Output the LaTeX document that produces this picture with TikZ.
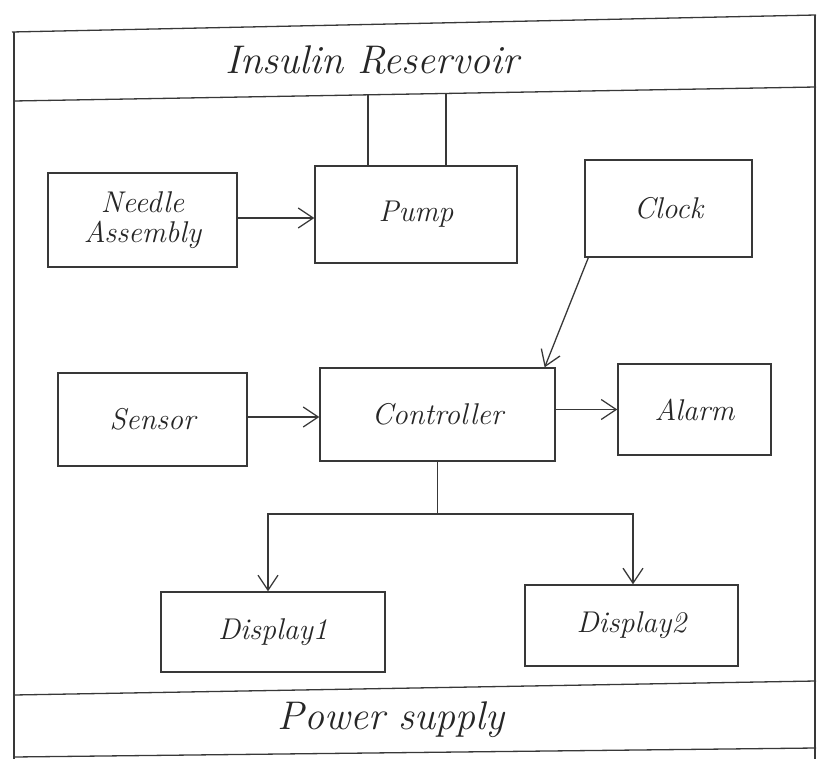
\documentclass[tikz,border=0pt]{standalone}
\usetikzlibrary{arrows.meta}
\begin{document}
\begin{tikzpicture}[x=1pt,y=-1pt,
  ink/.style={draw=black!78,line width=1.3pt},
  blk/.style={ink,rectangle,inner sep=0pt,align=center,
    font=\fontsize{30}{34}\selectfont\itshape,text=black!85},
  band/.style={font=\fontsize{40}{44}\selectfont\itshape,text=black!85},
  arr/.style={ink,-{Straight Barb[length=15pt,width=20pt,line width=1.3pt]}}]
\useasboundingbox (0,0) rectangle (820,759);

% outer frame with the two bands
\draw[ink] (12,32) -- (816,15);
\draw[ink] (14,32) -- (14,759);
\draw[ink] (815,15) -- (815,759);
\draw[ink] (14,101) -- (816,87);
\draw[ink] (14,695) -- (816,681);
\draw[ink] (14,757) -- (816,748);

\node[band] (res) at (372,60) {Insulin Reservoir};
\node[band] (pwr) at (391,720) {Power supply};

% blocks
\node[blk,minimum width=189,minimum height=94] (needle) at (142.5,220) {Needle\\[-4pt]Assembly};
\node[blk,minimum width=202,minimum height=97] (pump) at (416,214.5) {Pump};
\node[blk,minimum width=167,minimum height=97] (clock) at (668.5,208.5) {Clock};
\node[blk,minimum width=189,minimum height=93] (sensor) at (152.5,419.5) {Sensor};
\node[blk,minimum width=235,minimum height=93] (ctrl) at (437.5,414.5) {Controller};
\node[blk,minimum width=153,minimum height=91] (alarm) at (694.5,409.5) {Alarm};
\node[blk,minimum width=224,minimum height=80] (disp1) at (273,632) {Display1};
\node[blk,minimum width=213,minimum height=81] (disp2) at (631.5,625.5) {Display2};

% pump fed from the reservoir
\coordinate (r1) at (368,95);
\coordinate (r2) at (446,94);
\draw[ink] (r1) -- (r1 |- pump.north);
\draw[ink] (r2) -- (r2 |- pump.north);

% signal connectors
\draw[arr] (needle.east |- 0,218) -- (pump.west |- 0,218);
\draw[arr] ([xshift=4pt]clock.south west) -- ([xshift=-11pt]ctrl.north east);
\draw[arr] (sensor.east |- 0,417) -- (ctrl.west |- 0,417);
\draw[arr] (ctrl.east |- alarm.west) -- (alarm.west);

% controller to both displays
\coordinate (bus) at (ctrl.south |- 0,514);
\draw[ink] (ctrl.south) -- (bus);
\draw[arr] (bus) -| ([xshift=-5pt]disp1.north);
\draw[arr] (bus) -| ([xshift=1.5pt]disp2.north);
\end{tikzpicture}
\end{document}
